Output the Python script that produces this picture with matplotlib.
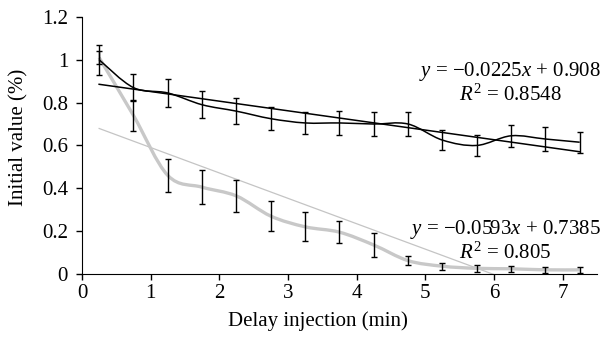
import numpy as np
import matplotlib
matplotlib.use('Agg')
import matplotlib.pyplot as plt
from matplotlib.path import Path
from matplotlib.patches import PathPatch

plt.rcParams['font.family'] = 'Liberation Serif'
plt.rcParams['mathtext.fontset'] = 'custom'
plt.rcParams['mathtext.rm'] = 'Liberation Serif'
plt.rcParams['mathtext.it'] = 'Liberation Serif:italic'

# delay injection times (min)
delay = [0.25, 0.75, 1.25, 1.75, 2.25, 2.75, 3.25, 3.75,
         4.25, 4.75, 5.25, 5.75, 6.25, 6.75, 7.25]

# black series: means and error
black_mean = [1.0, 0.87, 0.845, 0.79, 0.76, 0.725, 0.705, 0.705,
              0.70, 0.70, 0.625, 0.60, 0.645, 0.63, 0.615]
black_err = [0.07, 0.063, 0.065, 0.062, 0.06, 0.055, 0.052, 0.058,
             0.058, 0.058, 0.048, 0.05, 0.05, 0.054, 0.05]

# grey series: means and error
grey_mean = [1.01, 0.74, 0.46, 0.405, 0.364, 0.27, 0.22, 0.195,
             0.135, 0.062, 0.036, 0.026, 0.024, 0.019, 0.019]
grey_err = [0.03, 0.072, 0.078, 0.078, 0.076, 0.069, 0.068, 0.051,
            0.055, 0.02, 0.017, 0.016, 0.015, 0.013, 0.013]

# linear trends (x = point index 1..15)
black_fit = (-0.0225, 0.908)
grey_fit = (-0.0593, 0.7385)


def smooth_path(xs, ys):
    # Excel style smoothed line: Catmull-Rom as cubic bezier
    pts = np.column_stack([xs, ys])
    verts = [pts[0]]
    codes = [Path.MOVETO]
    n = len(pts)
    for i in range(n - 1):
        p0 = pts[max(i - 1, 0)]
        p1 = pts[i]
        p2 = pts[i + 1]
        p3 = pts[min(i + 2, n - 1)]
        c1 = p1 + (p2 - p0) / 6
        c2 = p2 - (p3 - p1) / 6
        verts += [c1, c2, p2]
        codes += [Path.CURVE4] * 3
    return Path(verts, codes)


fig = plt.figure(figsize=(6.05, 3.39), dpi=100)
ax = fig.add_axes([0.1355, 0.192, 0.851, 0.758])

idx = np.arange(1, len(delay) + 1)
x = np.array(delay)

# grey trend line
ax.plot(x, grey_fit[0] * idx + grey_fit[1], color='#c4c4c4', lw=0.9, zorder=1)
# grey smoothed line
ax.add_patch(PathPatch(smooth_path(delay, grey_mean), fill=False,
                       edgecolor='#c8c8c8', lw=2.4, zorder=2))
ax.errorbar(delay, grey_mean, yerr=grey_err, fmt='none', ecolor='black',
            elinewidth=1, capsize=2.5, capthick=1, zorder=3)

# black trend line and smoothed line
ax.plot(x, black_fit[0] * idx + black_fit[1], color='black', lw=1.1, zorder=4)
ax.add_patch(PathPatch(smooth_path(delay, black_mean), fill=False,
                       edgecolor='black', lw=1.1, zorder=4))
ax.errorbar(delay, black_mean, yerr=black_err, fmt='none', ecolor='black',
            elinewidth=1, capsize=2.5, capthick=1, zorder=5)

ax.set_xlim(0, 7.5)
ax.set_ylim(0, 1.2)
ax.set_xticks(range(0, 8))
ax.set_yticks([0, 0.2, 0.4, 0.6, 0.8, 1.0, 1.2])
ax.set_yticklabels(['0', '0.2', '0.4', '0.6', '0.8', '1', '1.2'])
ax.spines['top'].set_visible(False)
ax.spines['right'].set_visible(False)
ax.tick_params(direction='out', length=4, width=1, labelsize=15, pad=3)
ax.tick_params(axis='y', pad=6)
ax.set_xlabel('Delay injection (min)', fontsize=15)
ax.set_ylabel('Initial value (%)', fontsize=15)
ax.xaxis.set_label_coords(0.458, -0.145)
ax.yaxis.set_label_coords(-0.104, 0.533)

ax.text(0.843, 0.755, '$y$ = \u22120.0225$x$ + 0.908\n$R^2$ = 0.8548',
        transform=fig.transFigure, ha='center', va='center',
        multialignment='center', fontsize=15, linespacing=1.1)
ax.text(0.835, 0.29, '$y$ = \u22120.0593$x$ + 0.7385\n$R^2$ = 0.805',
        transform=fig.transFigure, ha='center', va='center',
        multialignment='center', fontsize=15, linespacing=1.1)

fig.savefig('out.png', dpi=100)
